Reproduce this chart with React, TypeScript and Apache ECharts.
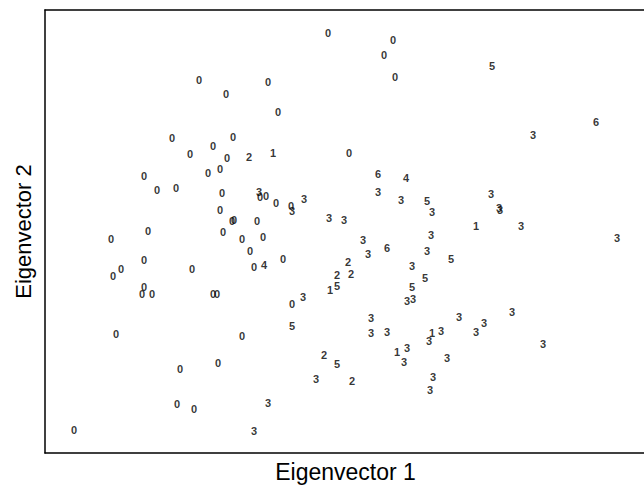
import React, { useEffect, useRef } from "react";
import * as echarts from "echarts";

// Scores on the first two eigenvectors (arbitrary plot units), grouped by class label
const classLabels = ["0", "1", "2", "3", "4", "5", "6"];

const class0 = [
  [283, 420], [348, 413], [339, 398], [350, 376], [154, 373], [223, 371], [181, 359], [233, 341],
  [127, 315], [188, 316], [168, 307], [145, 299], [182, 295], [304, 300], [175, 284], [163, 280],
  [99, 277], [112, 263], [131, 265], [177, 260], [215, 256], [221, 257], [231, 250], [246, 247],
  [175, 243], [187, 232], [189, 233], [212, 232], [103, 222], [178, 221], [66, 214], [197, 214],
  [218, 216], [205, 202], [99, 193], [209, 186], [238, 194], [68, 177], [76, 184], [147, 184],
  [99, 166], [97, 159], [107, 159], [168, 159], [172, 159], [247, 149], [71, 119], [197, 117],
  [173, 90], [135, 84], [132, 49], [149, 44], [29, 23],
];
const class1 = [[228, 300], [431, 227], [285, 163], [387, 120], [352, 101]];
const class2 = [[204, 296], [303, 191], [292, 178], [306, 179], [279, 98], [307, 72]];
const class3 = [
  [214, 261], [259, 254], [247, 242], [284, 235], [299, 233], [333, 261], [356, 253], [387, 241],
  [446, 259], [454, 245], [455, 243], [476, 227], [488, 318], [572, 215], [386, 218], [318, 213],
  [323, 199], [382, 202], [367, 187], [362, 152], [368, 154], [258, 156], [326, 135], [326, 120],
  [342, 121], [414, 136], [431, 121], [439, 130], [467, 141], [396, 122], [384, 112], [362, 105],
  [359, 91], [402, 95], [498, 109], [388, 76], [385, 63], [271, 74], [223, 50], [209, 22],
];
const class4 = [[361, 275], [219, 188]];
const class5 = [[447, 387], [382, 252], [406, 194], [380, 175], [292, 167], [367, 166], [247, 127], [292, 89]];
const class6 = [[551, 331], [333, 279], [342, 205]];

const classPoints = [class0, class1, class2, class3, class4, class5, class6];

const xName = "Eigenvector 1";
const yName = "Eigenvector 2";

export default function App() {
  const ref = useRef<HTMLDivElement>(null);
  useEffect(() => {
    if (!ref.current) return;
    const chart = echarts.init(ref.current, undefined, { renderer: "svg" });
    const font = "'Liberation Sans', Arial, Helvetica, sans-serif";
    const series = classLabels.map((lab, i) => ({
      type: "scatter" as const,
      name: lab,
      data: classPoints[i],
      symbol: "circle",
      symbolSize: 1,
      itemStyle: { color: "rgba(0,0,0,0)" },
      label: {
        show: true,
        position: "inside" as const,
        formatter: lab,
        color: "#000",
        fontSize: 11,
        fontFamily: font,
        fontWeight: "bold" as const,
      },
      labelLayout: { hideOverlap: false },
      emphasis: { disabled: true },
    }));
    chart.setOption({
      animation: false,
      backgroundColor: "#fff",
      grid: { left: 45, right: -2, top: 10, bottom: 36, outerBoundsMode: "none", containLabel: false },
      xAxis: [
        {
          type: "value",
          min: 0,
          max: 601,
          name: xName,
          nameLocation: "middle",
          nameGap: 7,
          nameTextStyle: { fontSize: 23, color: "#000", fontFamily: font, verticalAlign: "top" },
          axisLine: { show: true, onZero: false, lineStyle: { color: "#000", width: 1.5 } },
          axisTick: { show: false },
          axisLabel: { show: false },
          splitLine: { show: false },
        },
        {
          type: "value",
          position: "top",
          min: 0,
          max: 601,
          axisLine: { show: true, onZero: false, lineStyle: { color: "#000", width: 1.5 } },
          axisTick: { show: false },
          axisLabel: { show: false },
          splitLine: { show: false },
        },
      ],
      yAxis: {
        type: "value",
        min: 0,
        max: 443,
        name: yName,
        nameLocation: "middle",
        nameGap: 11,
        nameTextStyle: { fontSize: 22, color: "#000", fontFamily: font, verticalAlign: "bottom" },
        axisLine: { show: true, onZero: false, lineStyle: { color: "#000", width: 1.5 } },
        axisTick: { show: false },
        axisLabel: { show: false },
        splitLine: { show: false },
      },
      series,
    });
    return () => chart.dispose();
  }, []);
  return (
    <div
      ref={ref}
      style={{ position: "fixed", left: 0, top: 0, width: 644, height: 489, background: "#fff" }}
    />
  );
}
